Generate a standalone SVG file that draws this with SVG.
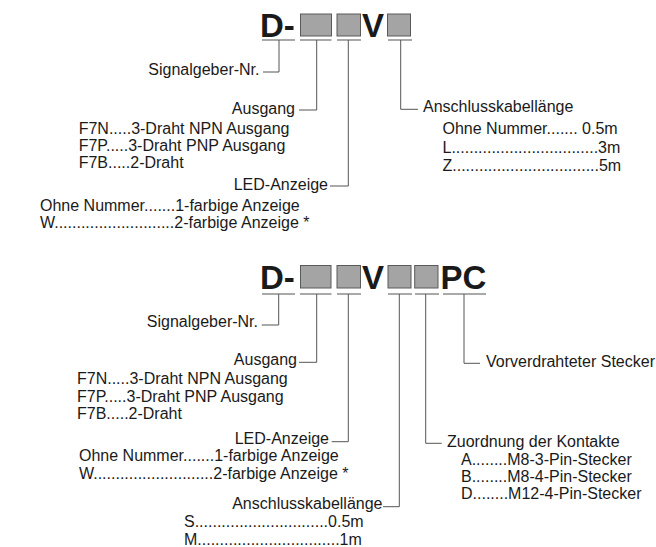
<svg xmlns="http://www.w3.org/2000/svg" width="656" height="547" viewBox="0 0 656 547">
<style>
text{font-family:"Liberation Sans",Arial,sans-serif;font-size:16px;fill:#1a1a1a}
.big{font-size:33px;font-weight:bold}
.e{text-anchor:end}
.box{fill:#a4a4a4;stroke:#5a5a5a;stroke-width:1}
.ul{stroke:#555;stroke-width:1.2;fill:none}
.c{stroke:#555;stroke-width:1;fill:none}
</style>
<rect width="656" height="547" fill="#fff"/>

<!-- TOP DIAGRAM -->
<g id="code1">
<text class="big" x="260" y="36.5">D-</text>
<rect class="box" x="300.5" y="14" width="31" height="22"/>
<rect class="box" x="337" y="14" width="23.5" height="22"/>
<text class="big" x="362" y="36.5">V</text>
<rect class="box" x="387.5" y="14" width="23" height="22"/>
<path class="ul" d="M262 40H295M300 40H331.5M337 40H361M388 40H412"/>
</g>
<g id="connectors1">
<path class="c" d="M279 40V72H263"/>
<path class="c" d="M316.7 40V110H299"/>
<path class="c" d="M348.3 40V186H330"/>
<path class="c" d="M400.7 40V109.3H418"/>
</g>
<g id="signal1"><text class="e" x="259.5" y="75">Signalgeber-Nr.</text></g>
<g id="ausgang1">
<text class="e" x="295" y="114">Ausgang</text>
<text x="78.7" y="133.5">F7N.....3-Draht NPN Ausgang</text>
<text x="78.7" y="151">F7P.....3-Draht PNP Ausgang</text>
<text x="78.7" y="168">F7B.....2-Draht</text>
</g>
<g id="led1">
<text class="e" x="328" y="189.5">LED-Anzeige</text>
<text x="40" y="211">Ohne Nummer.......1-farbige Anzeige</text>
<text x="40" y="228">W...........................2-farbige Anzeige *</text>
</g>
<g id="kabel1">
<text x="423" y="112.3">Anschlusskabellänge</text>
<text x="442.5" y="134">Ohne Nummer....... 0.5m</text>
<text x="442.5" y="152.5">L.................................3m</text>
<text x="442.5" y="170.5">Z.................................5m</text>
</g>

<!-- BOTTOM DIAGRAM -->
<g id="code2">
<text class="big" x="260" y="289">D-</text>
<rect class="box" x="300.5" y="265.5" width="30.5" height="22.5"/>
<rect class="box" x="337" y="265.5" width="23.5" height="22.5"/>
<text class="big" x="362" y="289">V</text>
<rect class="box" x="388" y="265.5" width="23" height="22.5"/>
<rect class="box" x="414.7" y="265.5" width="23.3" height="22.5"/>
<text class="big" x="440.5" y="289">PC</text>
<path class="ul" d="M262 294H295M300 294H331.5M337 294H361M388 294H412M415 294H439M443 294H486"/>
</g>
<g id="connectors2">
<path class="c" d="M278.7 294V325H261.7"/>
<path class="c" d="M316.7 294V362.3H299"/>
<path class="c" d="M348.3 294V441.7H331.7"/>
<path class="c" d="M399.3 294V506.7H383"/>
<path class="c" d="M425.7 294V443.3H441.7"/>
<path class="c" d="M464 294V363.3H480"/>
</g>
<g id="signal2"><text class="e" x="258" y="327">Signalgeber-Nr.</text></g>
<g id="ausgang2">
<text class="e" x="297" y="364.5">Ausgang</text>
<text x="77" y="383.5">F7N.....3-Draht NPN Ausgang</text>
<text x="77" y="401.5">F7P.....3-Draht PNP Ausgang</text>
<text x="77" y="418.5">F7B.....2-Draht</text>
</g>
<g id="led2">
<text class="e" x="329" y="443.5">LED-Anzeige</text>
<text x="79" y="461">Ohne Nummer.......1-farbige Anzeige</text>
<text x="79" y="478.5">W...........................2-farbige Anzeige *</text>
</g>
<g id="kabel2">
<text class="e" x="382.5" y="508.5">Anschlusskabellänge</text>
<text x="184" y="527">S..............................0.5m</text>
<text x="184" y="544.5">M................................1m</text>
</g>
<g id="kontakte2">
<text x="447" y="446.5">Zuordnung der Kontakte</text>
<text x="461" y="465">A........M8-3-Pin-Stecker</text>
<text x="461" y="482">B........M8-4-Pin-Stecker</text>
<text x="461" y="499">D........M12-4-Pin-Stecker</text>
</g>
<g id="stecker2"><text x="486" y="367">Vorverdrahteter Stecker</text></g>
</svg>
